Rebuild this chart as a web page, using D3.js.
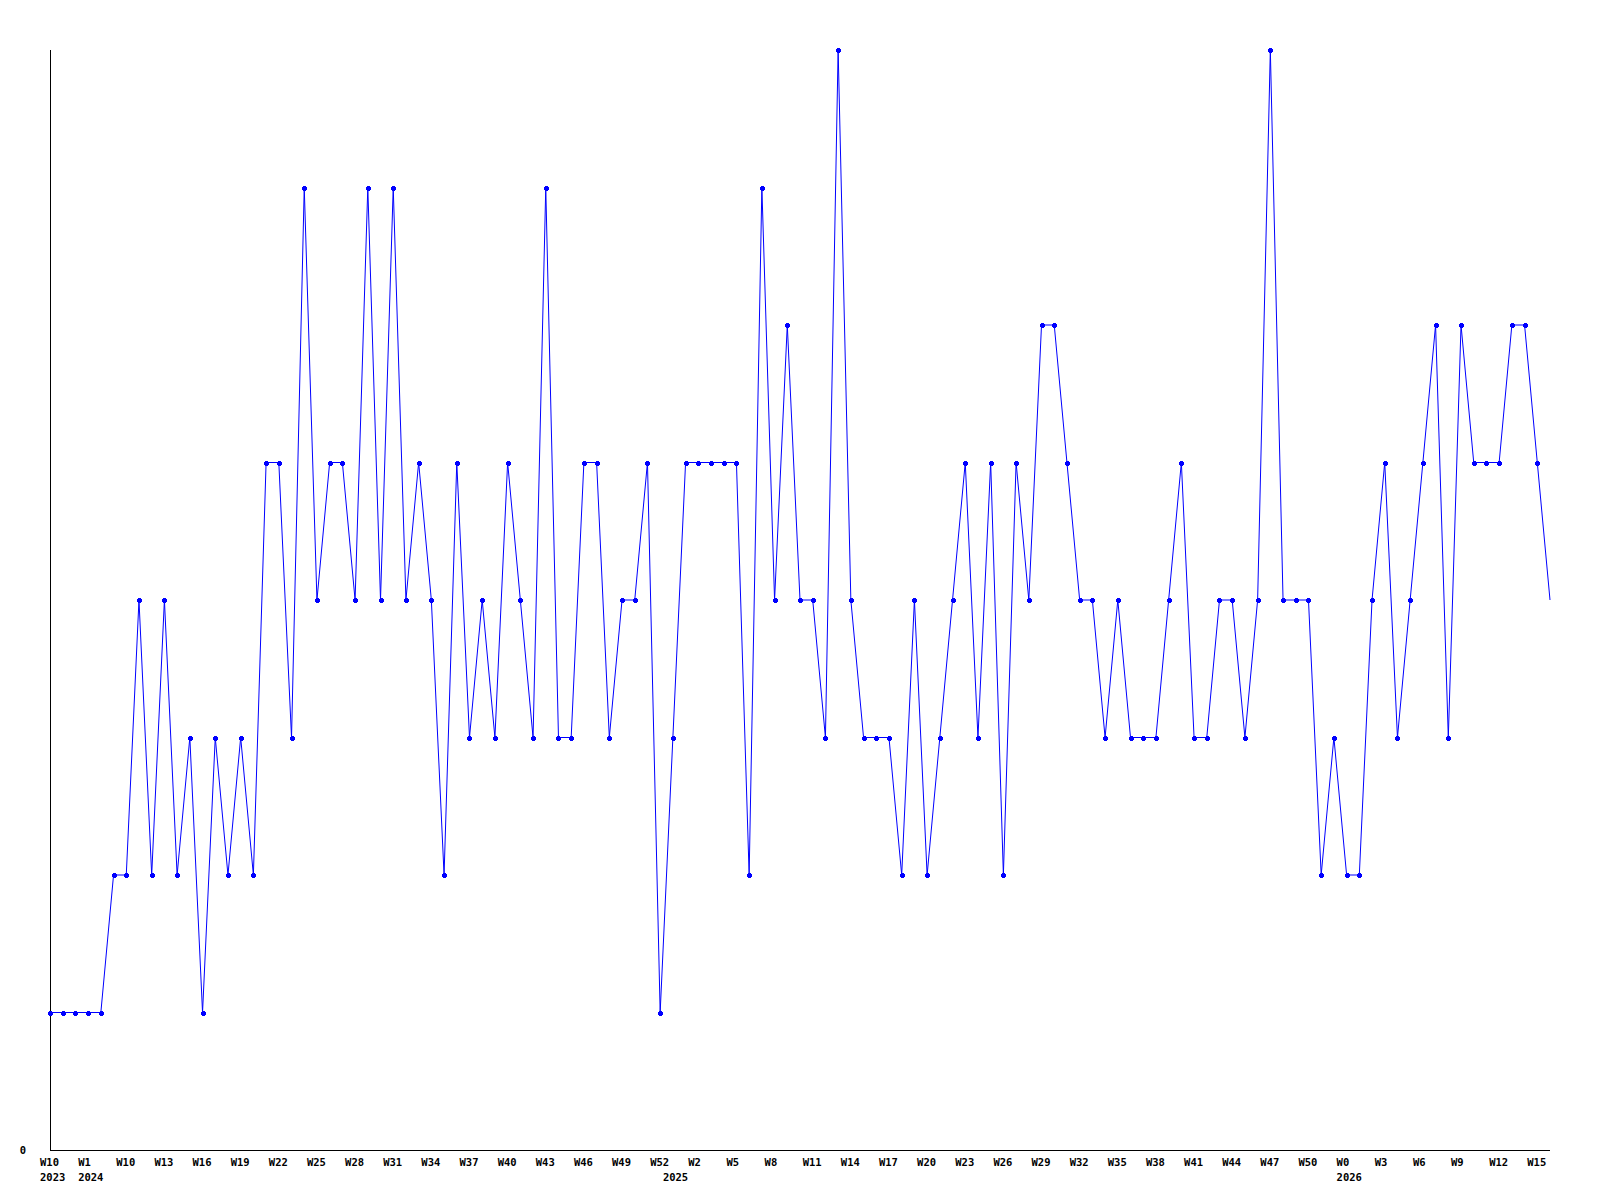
<!DOCTYPE html>
<html>
<head>
<meta charset="utf-8">
<script src="https://cdn.jsdelivr.net/npm/d3@7"></script>
<style>
  html, body { margin: 0; padding: 0; background: #ffffff; }
  svg text { font-family: "DejaVu Sans Mono", monospace; font-weight: bold; font-size: 10.5px; fill: #000; }
</style>
</head>
<body>
<svg id="chart" width="1600" height="1200"></svg>
<script>
// Weekly values, one per week (119 points)
const values = [
  1,1,1,1,1,2,2,4,2,4,
  2,3,1,3,2,3,2,5,5,3,
  7,4,5,5,4,7,4,7,4,5,
  4,2,5,3,4,3,5,4,3,7,
  3,3,5,5,3,4,4,5,1,3,
  5,5,5,5,5,2,7,4,6,4,
  4,3,8,4,3,3,3,2,4,2,
  3,4,5,3,5,2,5,4,6,6,
  5,4,4,3,4,3,3,3,4,5,
  3,3,4,4,3,4,8,4,4,4,
  2,3,2,2,4,5,3,4,5,6,
  3,6,5,5,5,6,6,5,4
];
// Tick labels (week) and the point index each sits on
const tickLabels = ["W10","W1","W10","W13","W16","W19","W22","W25","W28","W31","W34","W37","W40","W43","W46","W49","W52",
  "W2","W5","W8","W11","W14","W17","W20","W23","W26","W29","W32","W35","W38","W41","W44","W47","W50",
  "W0","W3","W6","W9","W12","W15"];
const tickIndex = [0,3,6,9,12,15,18,21,24,27,30,33,36,39,42,45,48,
  51,54,57,60,63,66,69,72,75,78,81,84,87,90,93,96,99,
  102,105,108,111,114,117];
const yearLabels = ["2023","2024","2025","2026"];
const yearIndex = [0,3,49,102];
const yTickValues = [0];

const svg = d3.select("#chart");
const x = d3.scaleLinear().domain([0, values.length - 1]).range([50, 1550]);
const y = d3.scaleLinear().domain([0, 8]).range([1150, 50]);

// axes lines
svg.append("line").attr("x1", 50.5).attr("x2", 50.5).attr("y1", 50).attr("y2", 1151)
  .attr("stroke", "#000").attr("stroke-width", 1);
svg.append("line").attr("x1", 50).attr("x2", 1550).attr("y1", 1150.5).attr("y2", 1150.5)
  .attr("stroke", "#000").attr("stroke-width", 1);

// y labels
svg.selectAll("text.ylab").data(yTickValues).enter().append("text")
  .attr("class", "ylab").attr("x", 26).attr("y", d => y(d) + 4)
  .attr("text-anchor", "end").text(d => d);

// x tick labels
svg.selectAll("text.xlab").data(tickLabels).enter().append("text")
  .attr("class", "xlab")
  .attr("x", (d, i) => x(tickIndex[i]) - 10)
  .attr("y", 1166)
  .text(d => d);
svg.selectAll("text.yearlab").data(yearLabels).enter().append("text")
  .attr("class", "yearlab")
  .attr("x", (d, i) => x(yearIndex[i]) - 10)
  .attr("y", 1181)
  .text(d => d);

// line
const line = d3.line().x((d, i) => x(i)).y(d => y(d));
svg.append("path").datum(values).attr("d", line)
  .attr("fill", "none").attr("stroke", "#0000ff").attr("stroke-width", 1);

// markers (all but the last point)
const mk = svg.append("g").attr("fill", "#0000ff");
values.slice(0, values.length - 1).forEach((v, i) => {
  const cx = Math.round(x(i)), cy = Math.round(y(v));
  mk.append("rect").attr("x", cx - 2).attr("y", cy - 1).attr("width", 5).attr("height", 3);
  mk.append("rect").attr("x", cx - 1).attr("y", cy - 2).attr("width", 3).attr("height", 5);
});
</script>
</body>
</html>
